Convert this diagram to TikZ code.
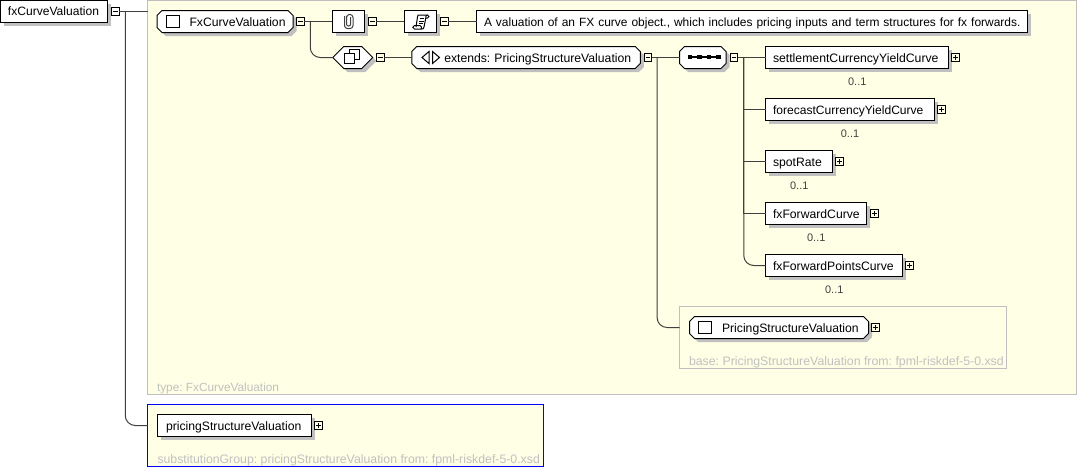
\documentclass[tikz,border=0pt]{standalone}
\usepackage{fontspec}
\setmainfont{Liberation Sans}
\usetikzlibrary{shadows}
\definecolor{paneyellow}{RGB}{255,255,229}
\definecolor{panegray}{RGB}{192,192,192}
\definecolor{connline}{RGB}{64,64,64}
\newcommand{\pad}[1]{\hspace*{#1\dimexpr0.75pt\relax}}
\newdimen\octcut
\octcut=3.75pt
\makeatletter
\pgfdeclareshape{cutbox}{
  \inheritsavedanchors[from=rectangle]
  \inheritanchorborder[from=rectangle]
  \inheritanchor[from=rectangle]{center}
  \inheritanchor[from=rectangle]{north}
  \inheritanchor[from=rectangle]{south}
  \inheritanchor[from=rectangle]{east}
  \inheritanchor[from=rectangle]{west}
  \backgroundpath{
    \southwest \pgf@xa=\pgf@x \pgf@ya=\pgf@y
    \northeast \pgf@xb=\pgf@x \pgf@yb=\pgf@y
    \pgfpathmoveto{\pgfqpoint{\pgf@xa}{\dimexpr\pgf@ya+\octcut\relax}}
    \pgfpathlineto{\pgfqpoint{\dimexpr\pgf@xa+\octcut\relax}{\pgf@ya}}
    \pgfpathlineto{\pgfqpoint{\dimexpr\pgf@xb-\octcut\relax}{\pgf@ya}}
    \pgfpathlineto{\pgfqpoint{\pgf@xb}{\dimexpr\pgf@ya+\octcut\relax}}
    \pgfpathlineto{\pgfqpoint{\pgf@xb}{\dimexpr\pgf@yb-\octcut\relax}}
    \pgfpathlineto{\pgfqpoint{\dimexpr\pgf@xb-\octcut\relax}{\pgf@yb}}
    \pgfpathlineto{\pgfqpoint{\dimexpr\pgf@xa+\octcut\relax}{\pgf@yb}}
    \pgfpathlineto{\pgfqpoint{\pgf@xa}{\dimexpr\pgf@yb-\octcut\relax}}
    \pgfpathclose
  }
}
\makeatother
\tikzset{
  px/.style={line width=0.75pt},
  fsize/.style={font=\fontsize{#1pt}{11pt}\selectfont\frenchspacing},
  basetext/.style={fsize=9.15,text height=8pt,text depth=1.2pt,inner sep=0pt,outer sep=0pt},
  wh/.style 2 args={minimum width=#1*0.75pt,minimum height=#2*0.75pt,text width=(#1-1)*0.75pt,align=left},
  dropshade/.style={general shadow={fill=panegray,shadow xshift=3.5*0.75pt,shadow yshift=-3.5*0.75pt}},
  elembox/.style={basetext,rectangle,draw=black,px,fill=white,dropshade},
  octbox/.style={basetext,cutbox,draw=black,px,fill=white,dropshade},
  hexbox/.style={octbox},
  container/.style={rectangle,draw=panegray,px,fill=paneyellow,inner sep=0pt,outer sep=0pt},
  subcontainer/.style={rectangle,draw=panegray,px,inner sep=0pt,outer sep=0pt},
  bluecontainer/.style={rectangle,draw=blue,px,fill=paneyellow,inner sep=0pt,outer sep=0pt},
  togglebox/.style={rectangle,draw=black,px,minimum size=7.5*0.75pt,inner sep=0pt,outer sep=0pt},
  togminus/.style={togglebox,path picture={\draw[black,px] ([xshift=1.1pt]path picture bounding box.west)--([xshift=-1.1pt]path picture bounding box.east);}},
  togplus/.style={togglebox,path picture={\draw[black,px] ([xshift=1.1pt]path picture bounding box.west)--([xshift=-1.1pt]path picture bounding box.east);\draw[black,px] ([yshift=-1.1pt]path picture bounding box.north)--([yshift=1.1pt]path picture bounding box.south);}},
  conn/.style={draw=connline,px},
  bendline/.style={conn,rounded corners=7.5pt},
  occurs/.style={basetext,fsize=8.2,text=connline},
  note/.style={basetext,text=panegray,anchor=west},
  iconline/.style={draw=connline,px},
  iconblack/.style={draw=black,px}
}
\begin{document}
\begin{tikzpicture}[x=0.75pt,y=-0.75pt]
\useasboundingbox (0,0) rectangle (1078,468);
% containers
\node[container,minimum width=929*0.75pt,minimum height=394*0.75pt] (typepane) at (612,197.5) {};
\node[subcontainer,minimum width=327*0.75pt,minimum height=61.5*0.75pt] (basepane) at (843,337.5) {};
\node[bluecontainer,minimum width=396*0.75pt,minimum height=62*0.75pt] (subpane) at (345.5,435.5) {};
\node[note,fsize=8.87] (typenote) at (157,386.5) {type: FxCurveValuation};
\node[note,fsize=9.24] (basenote) at (689,361) {base: PricingStructureValuation from: fpml-riskdef-5-0.xsd};
\node[note,fsize=9.22] (subnote) at (157.5,459) {substitutionGroup: pricingStructureValuation from: fpml-riskdef-5-0.xsd};
% nodes
\node[elembox,fsize=9.05,wh={107}{21.5}] (root) at (54,11.25) {\pad{7}fxCurveValuation};
\node[togminus] (troot) at (115.5,11.5) {};
\node[octbox,wh={136}{22}] (fxtype) at (225,21.5) {\pad{32}FxCurveValuation};
\node[togminus] (tfxtype) at (300.5,21.5) {};
\node[elembox,wh={32.5}{22}] (clip) at (348.5,21.5) {};
\node[togminus] (tclip) at (372.5,21.5) {};
\node[elembox,wh={32.5}{22}] (doc) at (420.5,21.5) {};
\node[togminus] (tdoc) at (444.5,21.5) {};
\node[elembox,fsize=8.97,wh={550.5}{22}] (desc) at (751.75,21.5) {\pad{7}\mbox{A valuation of an FX curve object., which includes pricing inputs and term structures for fx forwards.}};
\begingroup\octcut=8.25pt
\node[hexbox,wh={40}{22}] (choice) at (352.75,57.5) {};
\endgroup
\node[togminus] (tchoice) at (380.5,57.5) {};
\node[octbox,wh={228.5}{22}] (ext) at (526,57.5) {\pad{32}extends: PricingStructureValuation};
\node[togminus] (textend) at (648,57.5) {};
\node[octbox,wh={46.5}{22}] (seq) at (702.75,57.5) {};
\node[togminus] (tseq) at (734,57.5) {};
\node[elembox,fsize=9.18,wh={182.5}{22}] (settle) at (856.75,57.5) {\pad{7}settlementCurrencyYieldCurve};
\node[togplus] (tsettle) at (955.5,57.5) {};
\node[occurs] (osettle) at (857.25,80.5) {0..1};
\node[elembox,fsize=9.05,wh={168.5}{22}] (forecast) at (849.75,109.5) {\pad{7}forecastCurrencyYieldCurve};
\node[togplus] (tforecast) at (941.5,109.5) {};
\node[occurs] (oforecast) at (850,132.5) {0..1};
\node[elembox,wh={66.5}{22}] (spot) at (798.75,161.5) {\pad{7}spotRate};
\node[togplus] (tspot) at (839.5,161.5) {};
\node[occurs] (ospot) at (799.25,184.5) {0..1};
\node[elembox,wh={101}{22}] (fwd) at (816,213.5) {\pad{7}fxForwardCurve};
\node[togplus] (tfwd) at (874.5,213.5) {};
\node[occurs] (ofwd) at (816.25,236.5) {0..1};
\node[elembox,wh={136.5}{22}] (pts) at (833.75,265.5) {\pad{7}fxForwardPointsCurve};
\node[togplus] (tpts) at (909.5,265.5) {};
\node[occurs] (opts) at (834.25,288.5) {0..1};
\node[octbox,wh={179}{22}] (psv) at (779,327.5) {\pad{32}PricingStructureValuation};
\node[togplus] (tpsv) at (875.5,327.5) {};
\node[elembox,wh={154}{22}] (pelem) at (234.5,425.5) {\pad{8}pricingStructureValuation};
\node[togplus] (tpelem) at (318.5,425.5) {};
% connectors
\coordinate (jroot) at ([xshift=4.5pt]troot.east);
\coordinate (jfx) at ([xshift=4.5pt]tfxtype.east);
\coordinate (jext) at ([xshift=4pt]textend.east);
\coordinate (jseq) at ([xshift=4.5pt]tseq.east);
\draw[conn] (troot.east) -- (troot.east -| typepane.west);
\draw[bendline] (jroot) |- (subpane.west |- pelem.west);
\draw[conn] (tfxtype.east) -- (clip.west);
\draw[bendline] (jfx) |- (choice.west);
\draw[conn] (tclip.east) -- (doc.west);
\draw[conn] (tdoc.east) -- (desc.west);
\draw[conn] (tchoice.east) -- (ext.west);
\draw[conn] (textend.east) -- (seq.west);
\draw[bendline] (jext) |- (basepane.west |- psv.west);
\draw[conn] (tseq.east) -- (settle.west);
\draw[conn] (jseq) |- (forecast.west);
\draw[conn] (jseq) |- (spot.west);
\draw[conn] (jseq) |- (fwd.west);
\draw[bendline] (jseq) |- (pts.west);
% icons
\draw[iconblack,fill=white] (166,15.5) rectangle (179,27.5);
\draw[iconblack,fill=white] (698.5,321.5) rectangle (711,333.5);
% paper clip
\draw[iconline,rounded corners=2.2pt] (346.5,18) -- (346.5,14.5) -- (353,14.5) -- (353,28.5) -- (344.5,28.5) -- (344.5,16);
\draw[iconline,rounded corners=1.5pt] (346.5,16) -- (346.5,26) -- (350.7,26) -- (350.7,17);
% scroll
\draw[iconblack] (416,27) -- (417.5,17) .. controls (417.7,15) and (418,15) .. (419.5,15) -- (427.5,15) .. controls (429.5,15) and (429.5,18) .. (427.5,18) -- (425.8,18);
\draw[iconblack] (427.5,15) .. controls (425.5,15) and (426,16.5) .. (425.8,18) -- (424,27) .. controls (423.5,29) and (423,29) .. (421.5,29) -- (414.5,29) .. controls (412.2,29) and (412.2,25.5) .. (414.5,25.5) -- (420,25.5) .. controls (421.5,25.5) and (421.5,28) .. (421.5,29);
\draw[iconblack] (419.5,18.5) -- (424,18.5) (419,21) -- (423.5,21) (418.5,23.5) -- (423,23.5);
% compositor squares
\draw[iconblack,fill=white] (349.5,49.5) rectangle (359,59);
\draw[iconblack,fill=white] (344.5,53.5) rectangle (354,63);
% extension triangles
\draw[iconblack] (429,51.5) -- (422,57.5) -- (429,63.5) -- cycle;
\draw[iconblack] (432.5,51.5) -- (439.5,57.5) -- (432.5,63.5) -- cycle;
% sequence dots
\draw[draw=black,line width=0.9pt] (689.75,57) -- (718.25,57);
\foreach \dotx in {689.75,699.25,708.75,718.25}{\fill[black] (\dotx-2.25,54.75) rectangle (\dotx+2.25,59.25);}
\end{tikzpicture}
\end{document}
